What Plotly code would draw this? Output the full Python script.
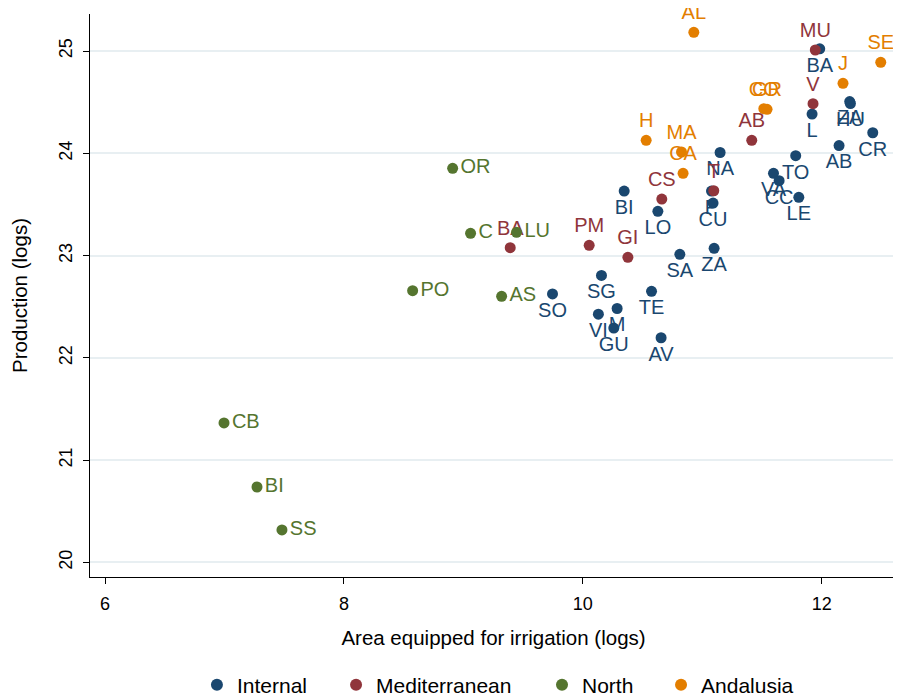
import plotly.graph_objects as go

# ---- data ----
internal_labels = ["BA", "L", "ZA", "HU", "CR", "AB", "NA", "TO", "VA", "CC", "LE", "P", "CU",
                   "BI", "LO", "SA", "ZA", "SG", "SO", "TE", "VI", "M", "GU", "AV"]
internal_x = [11.983, 11.919, 12.234, 12.240, 12.427, 12.145, 11.149, 11.782, 11.596, 11.643, 11.808, 11.077, 11.090,
              10.346, 10.628, 10.812, 11.099, 10.156, 9.746, 10.575, 10.130, 10.287, 10.259, 10.655]
internal_y = [25.022, 24.384, 24.506, 24.487, 24.201, 24.076, 24.008, 23.977, 23.804, 23.732, 23.570, 23.631, 23.514,
              23.631, 23.433, 23.013, 23.071, 22.806, 22.625, 22.651, 22.427, 22.483, 22.292, 22.197]

med_labels = ["MU", "V", "AB", "T", "CS", "PM", "GI", "BA"]
med_x = [11.946, 11.927, 11.414, 11.096, 10.661, 10.053, 10.377, 9.392]
med_y = [25.010, 24.485, 24.127, 23.634, 23.553, 23.101, 22.983, 23.077]

north_labels = ["OR", "C", "LU", "PO", "AS", "CB", "BI", "SS"]
north_x = [8.910, 9.060, 9.445, 8.575, 9.320, 6.996, 7.272, 7.481]
north_y = [23.853, 23.218, 23.228, 22.657, 22.602, 21.364, 20.738, 20.318]

anda_labels = ["AL", "SE", "J", "CO", "GR", "H", "MA", "CA"]
anda_x = [10.929, 12.494, 12.178, 11.515, 11.542, 10.530, 10.826, 10.839]
anda_y = [25.183, 24.890, 24.684, 24.436, 24.430, 24.127, 24.013, 23.804]

x_ticks = [6, 8, 10, 12]
y_ticks = [20, 21, 22, 23, 24, 25]

FONT = "Liberation Sans, Arial, sans-serif"
groups = [
    ("Internal", internal_labels, internal_x, internal_y, "#1a476f", "bottom center", "legend", 0.1325),
    ("Mediterranean", med_labels, med_x, med_y, "#90353b", "top center", "legend2", 0.3049),
    ("North", north_labels, north_x, north_y, "#55752f", "middle right", "legend3", 0.5601),
    ("Andalusia", anda_labels, anda_x, anda_y, "#e37e00", "top center", "legend4", 0.7076),
]

fig = go.Figure()
legend_cfg = {}
for name, labs, xs, ys, col, pos, leg, lx in groups:
    fig.add_trace(go.Scatter(
        x=xs, y=ys, text=labs, name=name, mode="markers+text",
        textposition=pos, cliponaxis=False, legend=leg,
        marker=dict(color=col, size=11, line=dict(width=0)),
        textfont=dict(color=col, size=20, family=FONT),
    ))
    legend_cfg[leg] = dict(orientation="h", x=lx, xanchor="left",
                           yref="container", y=0.0301, yanchor="middle",
                           font=dict(size=21, color="black", family=FONT), itemsizing="constant",
                           bgcolor="rgba(0,0,0,0)", borderwidth=0)

fig.update_layout(
    width=901, height=698,
    margin=dict(l=82, r=12, t=6, b=129),
    paper_bgcolor="white", plot_bgcolor="white",
    font=dict(family=FONT, size=17, color="black"),
    showlegend=True,
    **legend_cfg,
    xaxis=dict(range=[5.874, 12.63], tickvals=x_ticks, showgrid=False, zeroline=False,
               showline=True, linecolor="black", linewidth=1, automargin=False,
               ticks="outside", ticklen=6, tickcolor="black", ticklabelstandoff=4,
               tickfont=dict(size=18),
               title=dict(text="Area equipped for irrigation (logs)", standoff=18, font=dict(size=20.5))),
    yaxis=dict(range=[19.858, 25.362], tickvals=y_ticks, showgrid=True, gridcolor="#e8eff2", gridwidth=2,
               zeroline=False, showline=True, linecolor="black", linewidth=1, automargin=False,
               ticks="outside", ticklen=6, tickcolor="black", tickangle=-90, ticklabelstandoff=4,
               tickfont=dict(size=18),
               title=dict(text="Production (logs)", standoff=26, font=dict(size=20.5))),
)

fig.write_html("out.html")
